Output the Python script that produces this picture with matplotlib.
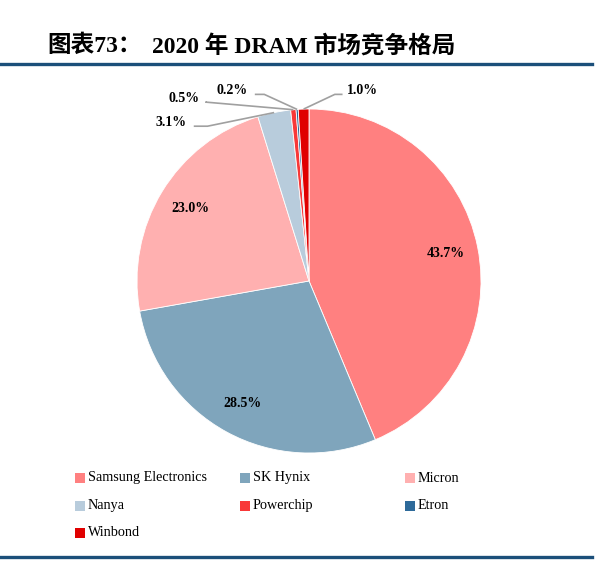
import numpy as np
import matplotlib
matplotlib.use("Agg")
import matplotlib.pyplot as plt
from matplotlib.patches import Rectangle

# 2020 DRAM market share (%)
companies = ["Samsung Electronics", "SK Hynix", "Micron", "Nanya",
             "Powerchip", "Etron", "Winbond"]
shares = [43.7, 28.5, 23.0, 3.1, 0.5, 0.2, 1.0]
colors = ["#FF8080", "#7FA5BC", "#FFB0B0", "#B8CCDC",
          "#F83838", "#2E6A9A", "#E00000"]

W, H = 598, 564
fig = plt.figure(figsize=(W / 100, H / 100), dpi=100)
serif_cjk = ["Liberation Serif", "Noto Sans CJK SC"]

# title and rules
fig.text(47 / W, 1 - 46 / H, "图表73：", family=serif_cjk, fontsize=17,
         fontweight="bold", va="center", ha="left")
fig.text(152 / W, 1 - 46 / H, "2020 年 DRAM 市场竞争格局", family=serif_cjk,
         fontsize=17, fontweight="bold", va="center", ha="left")
fig.add_artist(plt.Line2D([0, 0.99], [1 - 64 / H] * 2, color="#1B4F7A", lw=2.4))
fig.add_artist(plt.Line2D([0, 0.99], [1 - 557 / H] * 2, color="#1B4F7A", lw=2.4))

# pie
cx, cy, r = 309, 281, 172
ax = fig.add_axes([(cx - r) / W, (H - cy - r) / H, 2 * r / W, 2 * r / H])
wedges, _ = ax.pie(shares, colors=colors, startangle=90, counterclock=False,
                   radius=1, wedgeprops=dict(edgecolor="white", linewidth=0.6))
ax.set_xlim(-1, 1)
ax.set_ylim(-1, 1)
ax.set_aspect("equal")
ax.axis("off")

lab_font = dict(family="Liberation Serif", fontsize=10, fontweight="bold")

# inside labels for the big slices
for i in range(3):
    w = wedges[i]
    mid = np.deg2rad((w.theta1 + w.theta2) / 2)
    ax.text(0.81 * np.cos(mid), 0.81 * np.sin(mid), f"{shares[i]:.1f}%",
            ha="center", va="center", **lab_font)

# outside labels with leader lines (text pos, elbow x, side)
outside = {
    3: ((-0.71, 0.92), -0.59, "right"),
    4: ((-0.635, 1.06), -0.60, "right"),
    5: ((-0.355, 1.105), -0.26, "right"),
    6: ((0.22, 1.105), 0.15, "left"),
}
for i, ((tx, ty), ex, side) in outside.items():
    w = wedges[i]
    mid = np.deg2rad((w.theta1 + w.theta2) / 2)
    px, py = np.cos(mid), np.sin(mid)
    ax.text(tx, ty, f"{shares[i]:.1f}%", ha=side, va="center", **lab_font)
    sx = tx + (0.04 if side == "right" else -0.025)
    ly = ty - 0.02
    ax.plot([sx, ex, px], [ly, ly, py], color="#A0A0A0", lw=1.2,
            clip_on=False, solid_capstyle="butt")

# legend
for k, (name, col) in enumerate(zip(companies, colors)):
    row, c = divmod(k, 3)
    x0 = 75 + c * 165
    y0 = 478 + row * 27.5
    fig.add_artist(Rectangle((x0 / W, 1 - (y0 + 5) / H), 10 / W, 10 / H,
                             transform=fig.transFigure, color=col, lw=0))
    fig.text((x0 + 13) / W, 1 - y0 / H, name, family="Liberation Serif",
             fontsize=10.2, va="center", ha="left")

fig.savefig("out.png", dpi=100)
